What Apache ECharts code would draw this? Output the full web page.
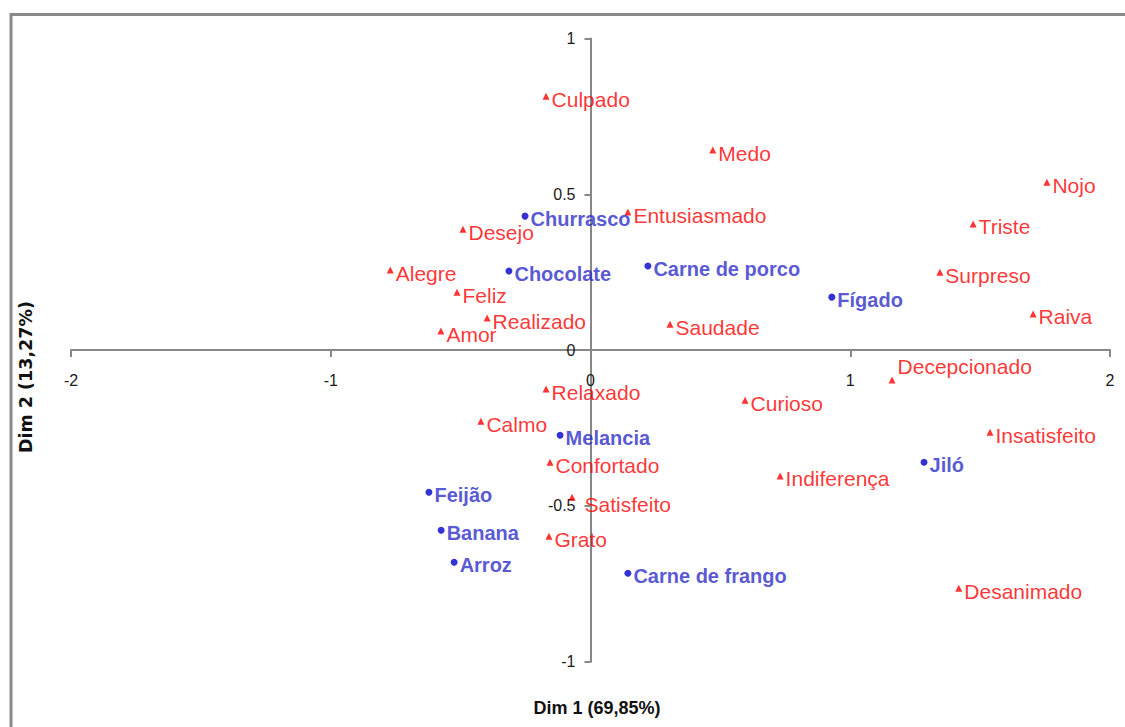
<!DOCTYPE html>
<html>
<head>
<meta charset="utf-8">
<script src="https://cdn.jsdelivr.net/npm/echarts@6/dist/echarts.min.js"></script>
<style>
html,body{margin:0;padding:0;background:#fff;}
#chart{width:1125px;height:727px;}
</style>
</head>
<body>
<div id="chart"></div>
<script>
// Emotions (red triangles)
const emotionNames = ['Culpado','Medo','Nojo','Entusiasmado','Desejo','Triste','Surpreso','Raiva','Alegre','Feliz','Amor','Realizado','Saudade','Decepcionado','Relaxado','Curioso','Calmo','Insatisfeito','Confortado','Indiferença','Satisfeito','Grato','Desanimado'];
const emotionX = [-0.171, 0.471, 1.757, 0.144, -0.491, 1.473, 1.345, 1.704, -0.771, -0.514, -0.576, -0.398, 0.306, 1.161, -0.171, 0.595, -0.422, 1.538, -0.156, 0.730, -0.071, -0.160, 1.418];
const emotionY = [0.815, 0.642, 0.539, 0.443, 0.388, 0.405, 0.250, 0.116, 0.257, 0.186, 0.061, 0.103, 0.083, -0.096, -0.125, -0.161, -0.228, -0.264, -0.360, -0.404, -0.472, -0.597, -0.764];

// Foods (blue circles)
const foodNames = ['Churrasco','Chocolate','Carne de porco','Fígado','Melancia','Jiló','Feijão','Banana','Arroz','Carne de frango'];
const foodX = [-0.252, -0.314, 0.221, 0.929, -0.117, 1.284, -0.622, -0.575, -0.525, 0.144];
const foodY = [0.430, 0.254, 0.270, 0.170, -0.273, -0.360, -0.456, -0.578, -0.681, -0.716];

// Axes
const xRange = [-2, 2];
const xStep = 1;
const yRange = [-1, 1];
const yStep = 0.5;
const xTitle = 'Dim 1 (69,85%)';
const yTitle = 'Dim 2 (13,27%)';

// label adjustments (pixels) for manually placed labels
const labelShift = { 'Decepcionado': [0, -14], 'Satisfeito': [7, 7] };

const axisGrey = '#878787';
const W = 1125, H = 727;
const gridBox = { left: 71, right: 15, top: 38.5, bottom: 65.3 };
const plotW = W - gridBox.left - gridBox.right;
const plotH = H - gridBox.top - gridBox.bottom;
// move axes from grid edges to the zero crossings
const xAxisOffset = -plotH * (0 - yRange[0]) / (yRange[1] - yRange[0]);
const yAxisOffset = -plotW * (0 - xRange[0]) / (xRange[1] - xRange[0]);

function buildData(names, xs, ys, defOffset) {
  return names.map((n, i) => ({
    name: n, value: [xs[i], ys[i]],
    label: { offset: labelShift[n] || defOffset }
  }));
}

const chart = echarts.init(document.getElementById('chart'), null, { renderer: 'svg' });
chart.setOption({
  animation: false,
  backgroundColor: '#ffffff',
  grid: Object.assign({ containLabel: false }, gridBox),
  xAxis: {
    type: 'value', min: xRange[0], max: xRange[1], interval: xStep,
    position: 'bottom', offset: xAxisOffset,
    axisLine: { onZero: false, lineStyle: { color: axisGrey, width: 2 } },
    axisTick: { show: true, inside: false, length: 7, lineStyle: { color: axisGrey, width: 2 } },
    axisLabel: { margin: 22, color: '#1a1a1a', fontFamily: 'Liberation Sans', fontSize: 16 },
    splitLine: { show: false }
  },
  yAxis: {
    type: 'value', min: yRange[0], max: yRange[1], interval: yStep,
    position: 'left', offset: yAxisOffset,
    axisLine: { onZero: false, lineStyle: { color: axisGrey, width: 2 } },
    axisTick: { show: true, inside: false, length: 6, lineStyle: { color: axisGrey, width: 2 } },
    axisLabel: { margin: 15, color: '#1a1a1a', fontFamily: 'Liberation Sans', fontSize: 16,
      formatter: v => String(v) },
    splitLine: { show: false }
  },
  graphic: [
    { type: 'rect', z: -10, silent: true,
      shape: { x: 11, y: 14.5, width: 1300, height: 900 },
      style: { fill: 'none', stroke: '#8a8a8a', lineWidth: 3 } },
    { type: 'text', silent: true, x: 597, y: 708,
      style: { text: xTitle, fontFamily: 'Liberation Sans', fontWeight: 'bold', fontSize: 18, fill: '#111',
        align: 'center', verticalAlign: 'middle' } },
    { type: 'text', silent: true, rotation: Math.PI / 2,
      x: 26, y: 377,
      style: { text: yTitle, fontFamily: 'DejaVu Sans', fontWeight: 'bold', fontSize: 17.5, fill: '#111',
        align: 'center', verticalAlign: 'middle' } }
  ],
  series: [
    {
      name: 'Emoções', type: 'scatter', symbol: 'triangle', symbolSize: 7,
      itemStyle: { color: '#ff0000' },
      label: { show: true, position: 'right', distance: 2, formatter: '{b}',
        color: '#ff0000', fontFamily: 'Liberation Sans', fontSize: 21 },
      data: buildData(emotionNames, emotionX, emotionY, [0, 3]),
      z: 3
    },
    {
      name: 'Alimentos', type: 'scatter', symbol: 'circle', symbolSize: 7,
      itemStyle: { color: '#0000c8' },
      label: { show: true, position: 'right', distance: 2, formatter: '{b}',
        color: '#2c2cc8', fontFamily: 'Liberation Sans', fontWeight: 'bold', fontSize: 20 },
      data: buildData(foodNames, foodX, foodY, [0, 3]),
      z: 3
    }
  ]
});
</script>
</body>
</html>
